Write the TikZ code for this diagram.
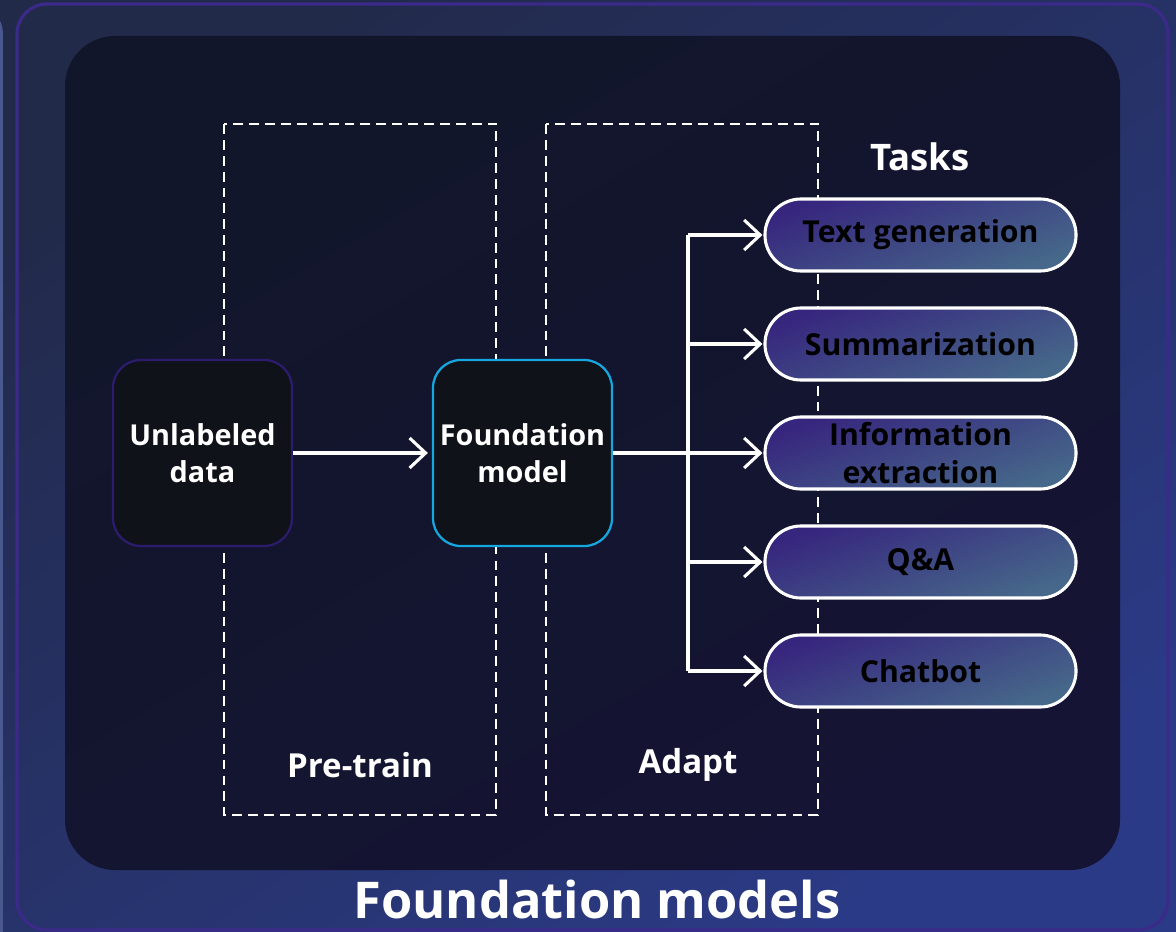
\documentclass[tikz,border=0pt]{standalone}
\usepackage{fontspec}
\setmainfont{Open Sans}
\usepackage{tikz}
\usetikzlibrary{arrows.meta,shadings}

\definecolor{bgtop}{HTML}{222A4A}
\definecolor{bgbot}{HTML}{2B3A86}
\definecolor{framecol}{HTML}{3B2A8A}
\definecolor{edgecol}{HTML}{4A5890}
\definecolor{panel}{HTML}{12162A}
\definecolor{panelbot}{HTML}{151434}
\definecolor{boxfill}{HTML}{0F1219}
\definecolor{datacol}{HTML}{2D1B6E}
\definecolor{modelcol}{HTML}{16A6E0}
\definecolor{pilltop}{HTML}{37267E}
\definecolor{pillbot}{HTML}{46688A}

\tikzset{
  box/.style={draw, line width=1.6pt, rounded corners=0.7cm, fill=boxfill,
    minimum width=4.475cm, minimum height=4.65cm, inner sep=0pt,
    text=white, align=center, font=\bfseries\fontsize{20.5}{26}\selectfont},
  task/.style={draw=white, line width=2.2pt, rounded corners=0.9cm,
    top color=pilltop, bottom color=pillbot, shading angle=20,
    minimum width=7.775cm, minimum height=1.8cm, inner sep=0pt,
    text=black, align=center, font=\bfseries\fontsize{21.5}{27.5}\selectfont},
  phase/.style={draw=white, line width=1.4pt, dash pattern=on 7pt off 4.3pt},
  lbl/.style={text=white, font=\bfseries\fontsize{23.5}{28}\selectfont},
  link/.style={draw=white, line width=2.2pt},
  tip/.style={-{Straight Barb[length=0.4cm,width=0.75cm]}}
}

\begin{document}
\begin{tikzpicture}[x=0.025cm,y=-0.025cm]
\useasboundingbox (0,0) rectangle (1176,932);
% background and frames
\shade[top color=bgtop, bottom color=bgbot, shading angle=35] (0,0) rectangle (1176,932);
\begin{scope}
\clip (0,0) rectangle (1176,932);
\draw[edgecol, line width=2pt, rounded corners=0.75cm] (-60,4) rectangle (1.5,990);
\end{scope}
\draw[framecol, line width=2.2pt, rounded corners=0.75cm] (17,4) rectangle (1168,930);
\shade[top color=panel, bottom color=panelbot, shading angle=30, rounded corners=1.25cm]
  (65,36) rectangle (1120,870);

% phases
\draw[phase] (224,124) rectangle (496,815);
\draw[phase] (546,124) rectangle (818,815);
\node[lbl] (p) at (360,765) {Pre-train};
\node[lbl] (a) at (688,765) {Adapt};

% data and model
\node[box, draw=datacol] (u) at (202.5,453) {Unlabeled\\data};
\node[box, draw=modelcol] (f) at (522.5,453) {Foundation\\model};
\draw[link, tip, shorten >=0.1cm] (u) -- (f);

% tasks
\node[lbl, font=\bfseries\fontsize{26}{30}\selectfont] (t) at (920,157) {Tasks};
\node[task] (t1) at (920.5,235) {Text generation};
\node[task] (t2) at (920.5,344) {Summarization};
\node[task] (t3) at (920.5,453) {Information\\extraction};
\node[task] (t4) at (920.5,562) {Q\&A};
\node[task] (t5) at (920.5,671) {Chatbot};

\coordinate (b) at (688,453);
\draw[link] (f) -- (b);
\draw[link] (b |- t1) -- (b |- t5);
\foreach \n in {t1,t2,t3,t4,t5}
  \draw[link, tip, shorten >=0.025cm] (b |- \n) -- (\n);

\node[text=white, font=\bfseries\fontsize{36}{40}\selectfont] (m) at (597,900) {Foundation models};
\end{tikzpicture}
\end{document}
